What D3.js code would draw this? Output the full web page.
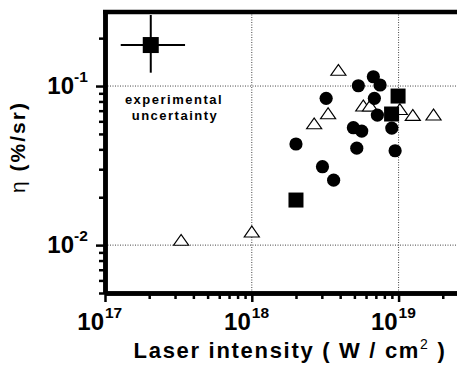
<!DOCTYPE html>
<html>
<head>
<meta charset="utf-8">
<script src="https://cdn.jsdelivr.net/npm/d3@7"></script>
<style>
  body { margin: 0; background: #fff; }
  svg { display: block; font-family: "Liberation Sans", Arial, sans-serif; }
</style>
</head>
<body>
<div id="chart"></div>
<script>
// laser intensity (W/cm^2) vs eta (%/sr)
const circleX = [6.73e18, 7.48e18, 5.32e18, 3.21e18, 6.84e18, 7.17e18, 4.92e18, 5.61e18, 8.99e18, 5.19e18, 9.47e18, 2.0e18, 3.03e18, 3.61e18];
const circleY = [0.1144, 0.1015, 0.1004, 0.0837, 0.0837, 0.0657, 0.0547, 0.0521, 0.0544, 0.0407, 0.0392, 0.0432, 0.0311, 0.0256];

const squareX = [9.92e18, 8.96e18, 2.0e18];
const squareY = [0.0865, 0.0667, 0.0192];

const triangleX = [3.89e18, 5.75e18, 6.39e18, 1.02e19, 3.31e18, 1.25e19, 1.73e19, 2.66e18, 3.30e17, 1.0e18];
const triangleY = [0.123, 0.0735, 0.0735, 0.0697, 0.0657, 0.0641, 0.0645, 0.0567, 0.0105, 0.01186];

// sample point showing the experimental uncertainty
const errPoint = { x: 2.05e17, y: 0.181, x0: 1.28e17, x1: 3.51e17, y0: 0.1213, y1: 0.2796 };

const xMajor = [1e17, 1e18, 1e19];
const xExp = ['17', '18', '19'];
const yMajor = [0.1, 0.01];
const yExp = ['-1', '-2'];

const W = 457, H = 372;
const x = d3.scaleLog().domain([1e17, 2.5e19]).range([105, 457]);
const y = d3.scaleLog().domain([0.005, 0.292]).range([293, 12]);

const svg = d3.select('#chart').append('svg')
  .attr('width', W).attr('height', H);

svg.append('rect').attr('width', W).attr('height', H).attr('fill', '#fff');

// dotted grid at the decades
const grid = svg.append('g').attr('stroke', '#444').attr('stroke-width', 1)
  .attr('stroke-dasharray', '1,1.5');
grid.selectAll('.gx').data([1e18, 1e19]).enter().append('line')
  .attr('x1', d => x(d)).attr('x2', d => x(d))
  .attr('y1', y.range()[1]).attr('y2', y.range()[0]);
grid.selectAll('.gy').data(yMajor).enter().append('line')
  .attr('x1', x.range()[0]).attr('x2', x.range()[1])
  .attr('y1', d => y(d)).attr('y2', d => y(d));

// minor tick positions
const minorX = [];
[1e17, 1e18, 1e19].forEach(p => d3.range(2, 10).forEach(m => { if (m * p <= 2.5e19) minorX.push(m * p); }));
const minorY = [];
[1e-3, 1e-2, 1e-1].forEach(p => d3.range(2, 10).forEach(m => { const v = m * p; if (v >= 0.005 && v <= 0.292) minorY.push(v); }));

function styleAxis(g) {
  g.select('.domain').attr('stroke', '#000').attr('stroke-width', 4.5);
  g.selectAll('.tick line').attr('stroke', '#000').attr('stroke-width', 2.5);
  g.selectAll('.tick text').remove();
}

svg.append('g').attr('transform', 'translate(0,293)')
  .call(d3.axisBottom(x).tickValues(minorX).tickSize(6).tickSizeOuter(0).tickFormat(''))
  .call(styleAxis);
svg.append('g').attr('transform', 'translate(0,293)')
  .call(d3.axisBottom(x).tickValues(xMajor).tickSize(9).tickSizeOuter(0).tickFormat(''))
  .call(styleAxis);
svg.append('g').attr('transform', 'translate(105,0)')
  .call(d3.axisLeft(y).tickValues(minorY).tickSize(6).tickSizeOuter(0).tickFormat(''))
  .call(styleAxis);
svg.append('g').attr('transform', 'translate(105,0)')
  .call(d3.axisLeft(y).tickValues(yMajor).tickSize(9).tickSizeOuter(0).tickFormat(''))
  .call(styleAxis);

// top frame line
svg.append('line')
  .attr('x1', 103).attr('x2', W).attr('y1', 12).attr('y2', 12)
  .attr('stroke', '#000').attr('stroke-width', 4.5);

// x tick labels
xMajor.forEach((v, i) => {
  svg.append('text').attr('x', x(v) - 1).attr('y', 330)
    .attr('text-anchor', 'end').attr('font-size', 24).attr('font-weight', 'bold').text('10');
  svg.append('text').attr('x', x(v) + 0).attr('y', 318)
    .attr('font-size', 15.5).attr('font-weight', 'bold').text(xExp[i]);
});

// y tick labels
yMajor.forEach((v, i) => {
  svg.append('text').attr('x', 74).attr('y', y(v) + 8)
    .attr('text-anchor', 'end').attr('font-size', 24).attr('font-weight', 'bold').text('10');
  svg.append('text').attr('x', 74).attr('y', y(v) - 4)
    .attr('font-size', 15.5).attr('font-weight', 'bold').text(yExp[i]);
});

// triangles (open)
const tri = d3.symbol().type(d3.symbolTriangle).size(75);
svg.append('g').selectAll('path').data(triangleX).enter().append('path')
  .attr('d', tri)
  .attr('transform', (d, i) => `translate(${x(d)},${y(triangleY[i])}) scale(1.15,0.95)`)
  .attr('fill', '#fff').attr('stroke', '#000').attr('stroke-width', 1.1);

// circles
svg.append('g').selectAll('circle').data(circleX).enter().append('circle')
  .attr('cx', d => x(d)).attr('cy', (d, i) => y(circleY[i]))
  .attr('r', 6.6).attr('fill', '#000');

// squares
const sq = 15;
svg.append('g').selectAll('rect').data(squareX).enter().append('rect')
  .attr('x', d => x(d) - sq / 2).attr('y', (d, i) => y(squareY[i]) - sq / 2)
  .attr('width', sq).attr('height', sq).attr('fill', '#000');

// uncertainty marker
const eg = svg.append('g').attr('stroke', '#000').attr('stroke-width', 2);
eg.append('line').attr('x1', x(errPoint.x0)).attr('x2', x(errPoint.x1))
  .attr('y1', y(errPoint.y)).attr('y2', y(errPoint.y));
eg.append('line').attr('x1', x(errPoint.x)).attr('x2', x(errPoint.x))
  .attr('y1', y(errPoint.y0)).attr('y2', y(errPoint.y1));
svg.append('rect')
  .attr('x', x(errPoint.x) - 8).attr('y', y(errPoint.y) - 8)
  .attr('width', 16).attr('height', 16).attr('fill', '#000');

svg.append('text').attr('x', 174).attr('y', 104).attr('text-anchor', 'middle')
  .attr('font-size', 13).attr('font-weight', 'bold').attr('letter-spacing', 1.5)
  .text('experimental');
svg.append('text').attr('x', 175).attr('y', 120).attr('text-anchor', 'middle')
  .attr('font-size', 13).attr('font-weight', 'bold').attr('letter-spacing', 1.5)
  .text('uncertainty');

// axis titles
const xt = svg.append('text').attr('x', 290).attr('y', 358).attr('text-anchor', 'middle')
  .attr('font-size', 22).attr('font-weight', 'bold').attr('letter-spacing', 1.7);
xt.append('tspan').text('Laser intensity ( W / cm');
xt.append('tspan').attr('font-size', 14).attr('font-weight', 'normal').attr('dy', -9).text('2');
xt.append('tspan').attr('dy', 9).text(' )');

const yt = svg.append('text').attr('transform', 'translate(25,147) rotate(-90)')
  .attr('text-anchor', 'middle').attr('font-size', 21).attr('letter-spacing', 2);
yt.append('tspan').attr('font-weight', 'normal').text('η ');
yt.append('tspan').attr('font-weight', 'bold').text('(%/sr)');
</script>
</body>
</html>
